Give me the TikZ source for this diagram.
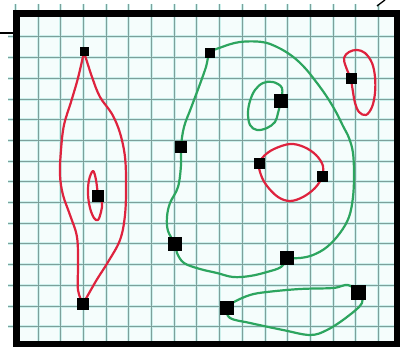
\documentclass[tikz,border=0pt]{standalone}
\usepackage{tikz}
\usetikzlibrary{positioning, backgrounds}

\definecolor{gridline}{RGB}{125,160,155}
\definecolor{gridhalo}{RGB}{205,240,236}
\definecolor{paper}{RGB}{245,253,252}
\definecolor{inkred}{RGB}{222,35,62}
\definecolor{inkgreen}{RGB}{45,165,95}

\begin{document}
\begin{tikzpicture}[x=1pt, y=-1pt,
        sq/.style={fill=black, inner sep=0pt, minimum size=#1},
        sq/.default=12pt,
        gridhl/.style={draw=gridhalo, line width=3pt},
        gridln/.style={draw=gridline, line width=1pt},
        redline/.style={draw=inkred, line width=2.2pt, line cap=round, line join=round},
        greenline/.style={draw=inkgreen, line width=2.2pt, line cap=round, line join=round}]

    \useasboundingbox (0,0) rectangle (400,347);

    % 方块
    \node [sq=9pt]  (redtop)   at (84,52)   {};
    \node [sq]      (redin)    at (98,196)  {};
    \node [sq]      (redbot)   at (83,304)  {};
    \node [sq=10pt] (gtop)     at (210,53)  {};
    \node [sq]      (gleft)    at (181,147) {};
    \node [sq=14pt] (glow)     at (175,244) {};
    \node [sq=14pt] (gend)     at (287,258) {};
    \node [sq=14pt] (gsmall)   at (281,101) {};
    \node [sq=11pt] (rsmall)   at (351,79)  {};
    \node [sq=11pt] (rcleft)   at (259,164) {};
    \node [sq=11pt] (rcright)  at (322,177) {};
    \node [sq=14pt] (bleft)    at (227,308) {};
    \node [sq=15pt] (bright)   at (358,293) {};

    \begin{scope}[on background layer]
        % 纸面与网格
        \fill [paper] (17,13) rectangle (397,344);
        \foreach \i in {-1,...,15}
            \draw [gridhl] ({38+22.7*\i},4) -- ({38+22.7*\i},344);
        \foreach \j in {0,...,14}
            \draw [gridhl] (8,{37+20.7*\j}) -- (397,{37+20.7*\j});
        \foreach \i in {-1,...,15}
            \draw [gridln] ({38+22.7*\i},4) -- ({38+22.7*\i},344);
        \foreach \j in {0,...,14}
            \draw [gridln] (8,{37+20.7*\j}) -- (397,{37+20.7*\j});

        % 红色曲线
        \draw [redline] plot [smooth, tension=0.6] coordinates {(redtop) (92,77) (100,97) (112,114) (120,133) (125,157) (126,185) (125,215) (120,240) (108,262) (96,281) (redbot)};
        \draw [redline] plot [smooth, tension=0.6] coordinates {(redtop) (78,78) (71,102) (64,125) (61,150) (60,175) (63,195) (70,215) (77,237) (78,265) (78,290) (redbot)};
        \draw [redline] plot [smooth, tension=0.6] coordinates {(redin) (96,180) (93,171) (89,180) (88,194) (90,208) (94,218) (98,220) (101,212) (102,203) (redin)};
        \draw [redline] plot [smooth, tension=0.6] coordinates {(rsmall) (346,67) (344,58) (349,52) (357,50) (365,53) (372,63) (375,77) (375,93) (372,107) (366,115) (359,112) (355,103) (353,92) (rsmall)};
        \draw [redline] plot [smooth cycle, tension=0.6] coordinates {(rcleft) (264,156) (274,149) (290,144) (304,147) (316,155) (323,166) (rcright) (315,188) (303,197) (290,201) (278,197) (267,186) (261,175)};

        % 绿色曲线
        \draw [greenline] plot [smooth, tension=0.6] coordinates {(gend) (300,258) (313,255) (327,247) (340,233) (349,217) (353,197) (354,175) (353,153) (349,138) (343,126) (336,112) (327,97) (317,83) (305,68) (292,56) (277,47) (262,42) (240,42) (222,47) (gtop) (206,67) (200,84) (191,108) (184,127) (gleft) (181,165) (178,187) (170,203) (167,217) (168,231) (glow) (177,253) (184,263) (200,269) (217,273) (233,277) (250,276) (267,272) (281,267) (gend)};
        \draw [greenline] plot [smooth, tension=0.6] coordinates {(gsmall) (282,88) (273,82) (263,83) (255,90) (250,101) (248,113) (250,125) (257,130) (267,128) (275,122) (278,113) (gsmall)};
        \draw [greenline] plot [smooth cycle, tension=0.6] coordinates {(bleft) (234,302) (250,295) (267,292) (300,289) (333,288) (348,285) (bright) (362,303) (347,317) (327,330) (310,335) (283,330) (250,323) (230,318)};
    \end{scope}

    % 边框
    \draw [line width=6.5pt] (16.5,13.5) rectangle (397,344.5);
    \draw [line width=1.3pt] (0,33) -- (13,33);
    \draw [line width=1.3pt] (377,6) -- (385,0);
\end{tikzpicture}
\end{document}
